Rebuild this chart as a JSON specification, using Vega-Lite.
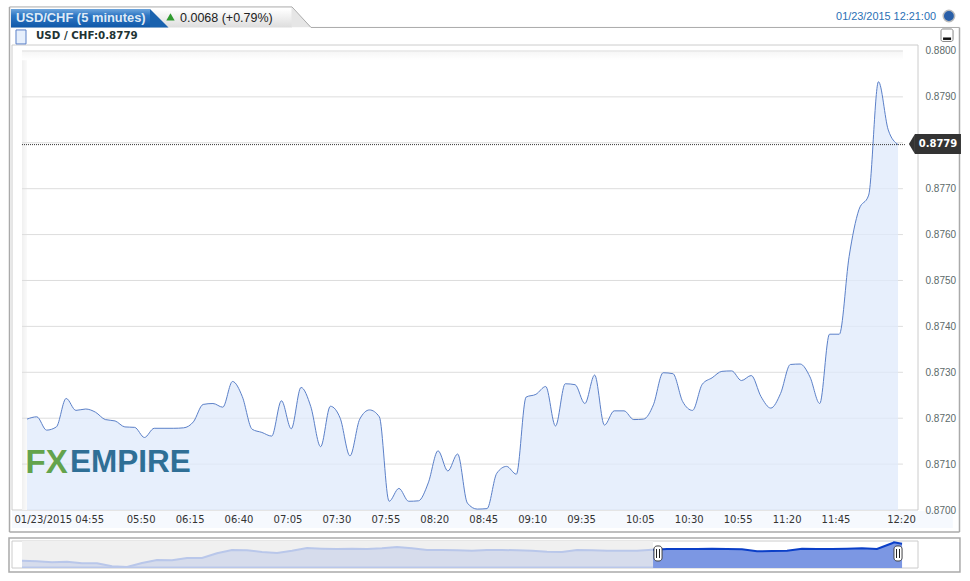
{"$schema":"https://vega.github.io/schema/vega-lite/v6.json","background":"white","padding":{"left":8,"top":6,"right":9,"bottom":8},"autosize":{"type":"pad"},"config":{"view":{"stroke":null}},"bounds":"flush","spacing":31,
"datasets":{"one":[{}],
"grid":[{"price":0.871},{"price":0.872},{"price":0.873},{"price":0.874},{"price":0.875},{"price":0.876},{"price":0.877},{"price":0.878},{"price":0.879},{"price":0.88}],
"main":[{"i":0,"time":"04:55","price":0.87198},{"i":1,"time":"05:00","price":0.87203},{"i":2,"time":"05:05","price":0.87174},{"i":3,"time":"05:10","price":0.87181},{"i":4,"time":"05:15","price":0.87243},{"i":5,"time":"05:20","price":0.87217},{"i":6,"time":"05:25","price":0.8722},{"i":7,"time":"05:30","price":0.87213},{"i":8,"time":"05:35","price":0.87197},{"i":9,"time":"05:40","price":0.87194},{"i":10,"time":"05:45","price":0.87181},{"i":11,"time":"05:50","price":0.8718},{"i":12,"time":"05:55","price":0.87158},{"i":13,"time":"06:00","price":0.87178},{"i":14,"time":"06:05","price":0.87178},{"i":15,"time":"06:10","price":0.87178},{"i":16,"time":"06:15","price":0.87179},{"i":17,"time":"06:20","price":0.87192},{"i":18,"time":"06:25","price":0.8723},{"i":19,"time":"06:30","price":0.87232},{"i":20,"time":"06:35","price":0.87224},{"i":21,"time":"06:40","price":0.8728},{"i":22,"time":"06:45","price":0.87247},{"i":23,"time":"06:50","price":0.87176},{"i":24,"time":"06:55","price":0.87169},{"i":25,"time":"07:00","price":0.87161},{"i":26,"time":"07:05","price":0.87238},{"i":27,"time":"07:10","price":0.87177},{"i":28,"time":"07:15","price":0.87267},{"i":29,"time":"07:20","price":0.87225},{"i":30,"time":"07:25","price":0.87138},{"i":31,"time":"07:30","price":0.87226},{"i":32,"time":"07:35","price":0.872},{"i":33,"time":"07:40","price":0.87118},{"i":34,"time":"07:45","price":0.87198},{"i":35,"time":"07:50","price":0.87218},{"i":36,"time":"07:55","price":0.87203},{"i":37,"time":"08:00","price":0.87019},{"i":38,"time":"08:05","price":0.87047},{"i":39,"time":"08:10","price":0.87019},{"i":40,"time":"08:15","price":0.8702},{"i":41,"time":"08:20","price":0.87059},{"i":42,"time":"08:25","price":0.87129},{"i":43,"time":"08:30","price":0.87085},{"i":44,"time":"08:35","price":0.87122},{"i":45,"time":"08:40","price":0.87015},{"i":46,"time":"08:45","price":0.87002},{"i":47,"time":"08:50","price":0.87003},{"i":48,"time":"08:55","price":0.8708},{"i":49,"time":"09:00","price":0.87095},{"i":50,"time":"09:05","price":0.87078},{"i":51,"time":"09:10","price":0.87246},{"i":52,"time":"09:15","price":0.87252},{"i":53,"time":"09:20","price":0.87269},{"i":54,"time":"09:25","price":0.87183},{"i":55,"time":"09:30","price":0.87275},{"i":56,"time":"09:35","price":0.87273},{"i":57,"time":"09:40","price":0.87232},{"i":58,"time":"09:45","price":0.87294},{"i":59,"time":"09:50","price":0.87185},{"i":60,"time":"09:55","price":0.87216},{"i":61,"time":"10:00","price":0.87216},{"i":62,"time":"10:05","price":0.87197},{"i":63,"time":"10:10","price":0.87198},{"i":64,"time":"10:15","price":0.87229},{"i":65,"time":"10:20","price":0.87299},{"i":66,"time":"10:25","price":0.87297},{"i":67,"time":"10:30","price":0.87236},{"i":68,"time":"10:35","price":0.87217},{"i":69,"time":"10:40","price":0.87274},{"i":70,"time":"10:45","price":0.87288},{"i":71,"time":"10:50","price":0.87302},{"i":72,"time":"10:55","price":0.87303},{"i":73,"time":"11:00","price":0.87282},{"i":74,"time":"11:05","price":0.87293},{"i":75,"time":"11:10","price":0.87247},{"i":76,"time":"11:15","price":0.87222},{"i":77,"time":"11:20","price":0.87254},{"i":78,"time":"11:25","price":0.87317},{"i":79,"time":"11:30","price":0.87318},{"i":80,"time":"11:35","price":0.8729},{"i":81,"time":"11:40","price":0.87232},{"i":82,"time":"11:45","price":0.87383},{"i":83,"time":"11:50","price":0.87383},{"i":84,"time":"11:55","price":0.87552},{"i":85,"time":"12:00","price":0.87654},{"i":86,"time":"12:05","price":0.87686},{"i":87,"time":"12:10","price":0.87933},{"i":88,"time":"12:15","price":0.87828},{"i":89,"time":"12:20","price":0.87796}],
"nav":[{"k":0,"price":0.85832},{"k":1,"price":0.85751},{"k":2,"price":0.85629},{"k":3,"price":0.8571},{"k":4,"price":0.85507},{"k":5,"price":0.85507},{"k":6,"price":0.85141},{"k":7,"price":0.85059},{"k":8,"price":0.85548},{"k":9,"price":0.85914},{"k":10,"price":0.85873},{"k":11,"price":0.86158},{"k":12,"price":0.86158},{"k":13,"price":0.86728},{"k":14,"price":0.87135},{"k":15,"price":0.87094},{"k":16,"price":0.86891},{"k":17,"price":0.86769},{"k":18,"price":0.87053},{"k":19,"price":0.87379},{"k":20,"price":0.87298},{"k":21,"price":0.87257},{"k":22,"price":0.87298},{"k":23,"price":0.87257},{"k":24,"price":0.87338},{"k":25,"price":0.87501},{"k":26,"price":0.87338},{"k":27,"price":0.87135},{"k":28,"price":0.87135},{"k":29,"price":0.87094},{"k":30,"price":0.87053},{"k":31,"price":0.87135},{"k":32,"price":0.87135},{"k":33,"price":0.87094},{"k":34,"price":0.87053},{"k":35,"price":0.86931},{"k":36,"price":0.86891},{"k":37,"price":0.87135},{"k":38,"price":0.87094},{"k":39,"price":0.87053},{"k":40,"price":0.87053},{"k":41,"price":0.87053},{"k":42,"price":0.87176},{"k":42.07,"price":0.87176},{"k":43,"price":0.87257},{"k":44,"price":0.87257},{"k":45,"price":0.87257},{"k":46,"price":0.87298},{"k":47,"price":0.87257},{"k":48,"price":0.87216},{"k":49,"price":0.86972},{"k":50,"price":0.87013},{"k":51,"price":0.87053},{"k":52,"price":0.87298},{"k":53,"price":0.87257},{"k":54,"price":0.87257},{"k":55,"price":0.87298},{"k":56,"price":0.87338},{"k":57,"price":0.87257},{"k":58,"price":0.87949},{"k":58.13,"price":0.88071},{"k":58.67,"price":0.87908}]},
"vconcat":[
{"width":906,"height":465,"data":{"name":"one"},"layer":[
{"data":{"name":"main"},"mark":{"type":"rule","opacity":0},"encoding":{"x":{"field":"i","type":"quantitative","title":null,"scale":{"domain":[-1.5327,91.04],"nice":false,"zero":false},"axis":{"values":[0,11,16,21,26,31,36,41,46,51,56,62,67,72,77,82,89],"labelExpr":"['01/23/2015 04:55','05:50','06:15','06:40','07:05','07:30','07:55','08:20','08:45','09:10','09:35','10:05','10:30','10:55','11:20','11:45','12:20'][indexof([0,11,16,21,26,31,36,41,46,51,56,62,67,72,77,82,89],datum.value)]","labelOverlap":false,"labelFlush":false,"domain":false,"ticks":false,"grid":false,"labelFont":"DejaVu Sans","labelFontSize":10,"labelColor":"#333333","labelPadding":4,"labelAlign":{"expr":"datum.value==0?'left':'center'"},"labelOffset":{"expr":"datum.value==0?-13:(datum.value==89?3:6)"},"zindex":1}},"y":{"field":"price","type":"quantitative","title":null,"scale":{"domain":[0.87,0.88013],"nice":false,"zero":false},"axis":{"orient":"right","values":[0.87,0.871,0.872,0.873,0.874,0.875,0.876,0.877,0.879,0.88],"format":".4f","domain":false,"ticks":false,"grid":false,"labelFont":"Liberation Sans","labelFontSize":10,"labelColor":"#5c6a6a","labelPadding":7,"zindex":1}}}},
{"mark":{"type":"rect","fill":{"gradient":"linear","x1":0,"y1":0,"x2":0,"y2":1,"stops":[{"offset":0,"color":"#ffffff"},{"offset":1,"color":"#dddddd"}]}},"encoding":{"x":{"datum":-1.635,"type":"quantitative"},"x2":{"datum":27.077},"y":{"datum":0.880915,"type":"quantitative"},"y2":{"datum":0.880512}}},
{"mark":{"type":"point","shape":"M-1,-1 L1,1 L-1,1 Z","filled":true,"fill":"#e6e6e6","opacity":1,"stroke":null,"size":400},"encoding":{"x":{"datum":28.05,"type":"quantitative"},"y":{"datum":0.880735,"type":"quantitative"}}},
{"mark":{"type":"rect","fill":{"gradient":"linear","x1":0,"y1":0,"x2":0,"y2":1,"stops":[{"offset":0,"color":"#6ea6dd"},{"offset":0.35,"color":"#2f77c4"},{"offset":1,"color":"#0f58a8"}]}},"encoding":{"x":{"datum":-1.635,"type":"quantitative"},"x2":{"datum":12.568},"y":{"datum":0.880915,"type":"quantitative"},"y2":{"datum":0.880512}}},
{"mark":{"type":"point","shape":"M-1,-1 L1,1 L-1,1 Z","filled":true,"fill":"#1a62ae","opacity":1,"stroke":null,"size":342},"encoding":{"x":{"datum":13.513,"type":"quantitative"},"y":{"datum":0.880714,"type":"quantitative"}}},
{"mark":{"type":"rule","stroke":"#aaaaaa","strokeWidth":1.5},"encoding":{"x":{"datum":-1.788,"type":"quantitative"},"y":{"datum":0.880959,"type":"quantitative"},"y2":{"datum":0.86952}}},
{"mark":{"type":"rule","stroke":"#aaaaaa","strokeWidth":1.5},"encoding":{"x":{"datum":95.28,"type":"quantitative"},"y":{"datum":0.880512,"type":"quantitative"},"y2":{"datum":0.86952}}},
{"mark":{"type":"rule","stroke":"#aaaaaa","strokeWidth":1.5},"encoding":{"y":{"datum":0.86952,"type":"quantitative"},"x":{"datum":-1.788,"type":"quantitative"},"x2":{"datum":95.28}}},
{"mark":{"type":"rule","stroke":"#aaaaaa","strokeWidth":1},"encoding":{"y":{"datum":0.880959,"type":"quantitative"},"x":{"datum":-1.788,"type":"quantitative"},"x2":{"datum":27.077}}},
{"mark":{"type":"rule","stroke":"#aaaaaa","strokeWidth":1},"encoding":{"x":{"datum":27.077,"type":"quantitative"},"y":{"datum":0.880959,"type":"quantitative"},"x2":{"datum":29.018},"y2":{"datum":0.880512}}},
{"mark":{"type":"rule","stroke":"#aaaaaa","strokeWidth":1},"encoding":{"y":{"datum":0.880512,"type":"quantitative"},"x":{"datum":29.018,"type":"quantitative"},"x2":{"datum":95.28}}},
{"mark":{"type":"rect","fill":"#f6f9fe"},"encoding":{"x":{"datum":-1.5327,"type":"quantitative"},"x2":{"datum":94.6},"y":{"datum":0.86998,"type":"quantitative"},"y2":{"datum":0.86961}}},
{"mark":{"type":"rect","fill":"#ffffff","stroke":"#cccccc","strokeWidth":1},"encoding":{"x":{"datum":-1.5327,"type":"quantitative"},"x2":{"datum":91.04},"y":{"datum":0.87,"type":"quantitative"},"y2":{"datum":0.88013}}},
{"mark":{"type":"rect","fill":{"gradient":"linear","x1":0,"y1":0,"x2":0,"y2":1,"stops":[{"offset":0,"color":"#f5f5f5"},{"offset":1,"color":"#ffffff"}]}},"encoding":{"x":{"datum":-0.511,"type":"quantitative"},"x2":{"datum":89.5},"y":{"datum":0.88,"type":"quantitative"},"y2":{"datum":0.8798}}},
{"mark":{"type":"rect","fill":{"gradient":"linear","x1":0,"y1":0,"x2":1,"y2":0,"stops":[{"offset":0,"color":"#f0f0f0"},{"offset":1,"color":"#fafafa"}]}},"encoding":{"x":{"datum":-0.511,"type":"quantitative"},"x2":{"datum":0,"type":"quantitative"},"y":{"datum":0.87,"type":"quantitative"},"y2":{"datum":0.8798}}},
{"data":{"name":"grid"},"mark":{"type":"rule","stroke":"#dddddd","strokeWidth":1},"encoding":{"y":{"field":"price","type":"quantitative"},"x":{"datum":-0.511,"type":"quantitative"},"x2":{"datum":89.5}}},
{"data":{"name":"main"},"mark":{"type":"area","interpolate":"monotone","fill":"#dfeafb","fillOpacity":0.75},"encoding":{"x":{"field":"i","type":"quantitative"},"y":{"field":"price","type":"quantitative"},"y2":{"datum":0.87}}},
{"data":{"name":"main"},"mark":{"type":"line","interpolate":"monotone","stroke":"#5b80c8","strokeWidth":1},"encoding":{"x":{"field":"i","type":"quantitative"},"y":{"field":"price","type":"quantitative"}}},
{"mark":{"type":"rule","stroke":"#333333","strokeWidth":1,"strokeDash":[1,1]},"encoding":{"y":{"datum":0.87796,"type":"quantitative"},"x":{"datum":-0.511,"type":"quantitative"},"x2":{"datum":89.7}}},
{"mark":{"type":"text","text":"FX","align":"left","baseline":"middle","font":"Liberation Sans","fontWeight":"bold","fontSize":33,"fill":"#63a34c"},"encoding":{"x":{"datum":-0.15,"type":"quantitative"},"y":{"datum":0.871024,"type":"quantitative"}}},
{"mark":{"type":"text","text":"EMPIRE","align":"left","baseline":"middle","font":"Liberation Sans","fontWeight":"bold","fontSize":31.5,"fill":"#2f6f96"},"encoding":{"x":{"datum":4.39,"type":"quantitative"},"y":{"datum":0.871024,"type":"quantitative"}}},
{"mark":{"type":"text","text":"USD/CHF (5 minutes)","align":"left","baseline":"middle","font":"Liberation Sans","fontWeight":"bold","fontSize":12.9,"fill":"#dfeaf6"},"encoding":{"x":{"datum":-1.124,"type":"quantitative"},"y":{"datum":0.880719,"type":"quantitative"}}},
{"mark":{"type":"point","shape":"triangle-up","filled":true,"fill":"#2f9a2f","opacity":1,"stroke":null,"size":70},"encoding":{"x":{"datum":14.66,"type":"quantitative"},"y":{"datum":0.880741,"type":"quantitative"}}},
{"mark":{"type":"text","text":"0.0068 (+0.79%)","align":"left","baseline":"middle","font":"Liberation Sans","fontSize":12.5,"fill":"#222222"},"encoding":{"x":{"datum":15.633,"type":"quantitative"},"y":{"datum":0.880719,"type":"quantitative"}}},
{"mark":{"type":"text","text":"01/23/2015 12:21:00","align":"right","baseline":"middle","font":"Liberation Sans","fontSize":10.9,"fill":"#2a6fb5"},"encoding":{"x":{"datum":92.88,"type":"quantitative"},"y":{"datum":0.880741,"type":"quantitative"}}},
{"mark":{"type":"point","shape":"circle","filled":true,"fill":"#2a5fa8","opacity":1,"stroke":"#bbbbbb","strokeWidth":1.5,"size":130},"encoding":{"x":{"datum":94.2,"type":"quantitative"},"y":{"datum":0.880763,"type":"quantitative"}}},
{"mark":{"type":"rect","fill":"#ffffff","stroke":"#888888","cornerRadius":2},"encoding":{"x":{"datum":93.39,"type":"quantitative"},"x2":{"datum":94.62},"y":{"datum":0.880479,"type":"quantitative"},"y2":{"datum":0.880207}}},
{"mark":{"type":"rect","fill":"#111111"},"encoding":{"x":{"datum":93.6,"type":"quantitative"},"x2":{"datum":94.42},"y":{"datum":0.880294,"type":"quantitative"},"y2":{"datum":0.88024}}},
{"mark":{"type":"rect","fill":"#e6effc","stroke":"#5b80c8"},"encoding":{"x":{"datum":-1.124,"type":"quantitative"},"x2":{"datum":-0.102},"y":{"datum":0.880458,"type":"quantitative"},"y2":{"datum":0.880153}}},
{"mark":{"type":"text","text":"USD / CHF:0.8779","align":"left","baseline":"middle","font":"DejaVu Sans","fontWeight":"bold","fontSize":10.3,"fill":"#223333"},"encoding":{"x":{"datum":0.92,"type":"quantitative"},"y":{"datum":0.880316,"type":"quantitative"}}},
{"mark":{"type":"rect","fill":"#333333"},"encoding":{"x":{"datum":90.73,"type":"quantitative"},"x2":{"datum":95.43},"y":{"datum":0.878192,"type":"quantitative"},"y2":{"datum":0.877756}}},
{"mark":{"type":"point","shape":"M1,-3.33 L-1,0 L1,3.33 Z","filled":true,"fill":"#333333","opacity":1,"stroke":null,"size":36},"encoding":{"x":{"datum":90.42,"type":"quantitative"},"y":{"datum":0.877974,"type":"quantitative"}}},
{"mark":{"type":"text","text":"0.8779","align":"center","baseline":"middle","font":"DejaVu Sans","fontWeight":"bold","fontSize":10,"fill":"#ffffff"},"encoding":{"x":{"datum":93.08,"type":"quantitative"},"y":{"datum":0.877974,"type":"quantitative"}}}
]},
{"width":906,"height":27,"data":{"name":"one"},"layer":[
{"mark":{"type":"rect","fill":"#ffffff","stroke":"#aaaaaa","strokeWidth":1.5},"encoding":{"x":{"datum":-0.8667,"type":"quantitative","axis":null,"scale":{"domain":[-0.6667,59.733],"nice":false,"zero":false}},"x2":{"datum":62.53},"y":{"datum":0.886,"type":"quantitative","axis":null,"scale":{"domain":[0.8494,0.8823],"nice":false,"zero":false}},"y2":{"datum":0.84452}}},
{"mark":{"type":"rect","fill":"#ffffff","stroke":"#cccccc"},"encoding":{"x":{"datum":-0.6667,"type":"quantitative","axis":null},"x2":{"datum":59.733},"y":{"datum":0.8494,"type":"quantitative","axis":null},"y2":{"datum":0.8823}}},
{"mark":{"type":"rect","fill":"#f0f0f0"},"encoding":{"x":{"datum":0,"type":"quantitative","axis":null},"x2":{"datum":42.07},"y":{"datum":0.8494,"type":"quantitative","axis":null},"y2":{"datum":0.8823}}},
{"data":{"name":"nav"},"transform":[{"filter":"datum.k<=42.07"}],"mark":{"type":"area","fill":"#d6dcec"},"encoding":{"x":{"field":"k","type":"quantitative","axis":null},"y":{"field":"price","type":"quantitative","axis":null},"y2":{"datum":0.8494}}},
{"data":{"name":"nav"},"transform":[{"filter":"datum.k<=42.07"}],"mark":{"type":"line","stroke":"#b9c7ea","strokeWidth":2},"encoding":{"x":{"field":"k","type":"quantitative","axis":null},"y":{"field":"price","type":"quantitative","axis":null}}},
{"data":{"name":"nav"},"transform":[{"filter":"datum.k>=42.07"}],"mark":{"type":"area","fill":"#7c97e3"},"encoding":{"x":{"field":"k","type":"quantitative","axis":null},"y":{"field":"price","type":"quantitative","axis":null},"y2":{"datum":0.8494}}},
{"data":{"name":"nav"},"transform":[{"filter":"datum.k>=42.07"}],"mark":{"type":"line","stroke":"#0b3fc8","strokeWidth":2},"encoding":{"x":{"field":"k","type":"quantitative","axis":null},"y":{"field":"price","type":"quantitative","axis":null}}},
{"mark":{"type":"rule","stroke":"#b9c7ea","strokeWidth":1.5},"encoding":{"x":{"datum":0,"type":"quantitative","axis":null},"x2":{"datum":42.07},"y":{"datum":0.8502,"type":"quantitative","axis":null}}},
{"mark":{"type":"rect","fill":"#ffffff","stroke":"#444444","cornerRadius":3},"encoding":{"x":{"datum":42.13,"type":"quantitative","axis":null},"x2":{"datum":42.67},"y":{"datum":0.87624,"type":"quantitative","axis":null},"y2":{"datum":0.85794}}},
{"mark":{"type":"rect","fill":"#ffffff","stroke":"#444444","cornerRadius":3},"encoding":{"x":{"datum":58.13,"type":"quantitative","axis":null},"x2":{"datum":58.67},"y":{"datum":0.87624,"type":"quantitative","axis":null},"y2":{"datum":0.85794}}},
{"mark":{"type":"rule","stroke":"#222222"},"encoding":{"x":{"datum":42.3,"type":"quantitative","axis":null},"y":{"datum":0.87258,"type":"quantitative","axis":null},"y2":{"datum":0.8616}}},
{"mark":{"type":"rule","stroke":"#222222"},"encoding":{"x":{"datum":42.5,"type":"quantitative","axis":null},"y":{"datum":0.87258,"type":"quantitative","axis":null},"y2":{"datum":0.8616}}},
{"mark":{"type":"rule","stroke":"#222222"},"encoding":{"x":{"datum":58.3,"type":"quantitative","axis":null},"y":{"datum":0.87258,"type":"quantitative","axis":null},"y2":{"datum":0.8616}}},
{"mark":{"type":"rule","stroke":"#222222"},"encoding":{"x":{"datum":58.5,"type":"quantitative","axis":null},"y":{"datum":0.87258,"type":"quantitative","axis":null},"y2":{"datum":0.8616}}}
]}
]}
